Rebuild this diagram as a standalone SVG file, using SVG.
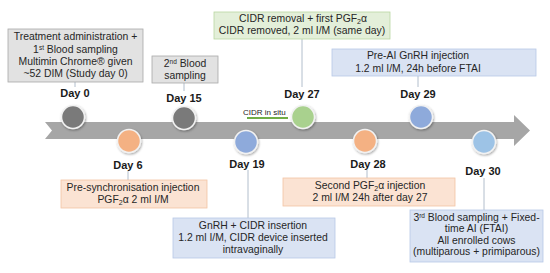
<svg xmlns="http://www.w3.org/2000/svg" width="550" height="273" viewBox="0 0 550 273">
<defs>
<filter id="sh" x="-30%" y="-30%" width="160%" height="160%">
<feDropShadow dx="0.8" dy="1.2" stdDeviation="0.9" flood-color="#000" flood-opacity="0.35"/>
</filter>
<style>
text{font-family:"Liberation Sans",Arial,sans-serif;fill:#262626}
.t{font-size:10.4px;text-anchor:middle}
.d{font-size:11px;font-weight:bold;text-anchor:middle;fill:#1a1a1a}
.gray{fill:#e2e2e2;stroke:#a9a9a9;stroke-width:0.8}
.green{fill:#e3efd9;stroke:#b9d7a2;stroke-width:0.8}
.blue{fill:#dae3f3;stroke:#b7c9e6;stroke-width:0.8}
.orange{fill:#fbe3d3;stroke:#f3c4a4;stroke-width:0.8}
.c{stroke:#f2f2f2;stroke-width:1.5;filter:url(#sh)}
.ln{stroke:#a9b7c6;stroke-width:0.9;fill:none}
</style>
</defs>
<g id="timeline">
<polygon points="45,122 514,122 514,115 530,130.5 514,146 514,139 45,139 52,130.5" fill="#a6a6a6"/>
<line x1="247" y1="118" x2="288" y2="118" stroke="#70ad47" stroke-width="2"/>
<text x="243" y="115" style="font-size:8px">CIDR in situ</text>
</g>
<g id="connectors">
<line class="ln" x1="75" y1="82" x2="75" y2="87"/>
<line class="ln" x1="184" y1="83" x2="184" y2="91"/>
<line class="ln" x1="302" y1="39" x2="302" y2="87"/>
<line class="ln" x1="418" y1="76" x2="418" y2="87"/>
<line class="ln" x1="128" y1="171" x2="128" y2="180"/>
<line class="ln" x1="248" y1="170" x2="248" y2="218"/>
<line class="ln" x1="367" y1="170" x2="367" y2="178"/>
<line class="ln" x1="484" y1="178" x2="484" y2="210"/>
</g>
<g id="day0">
<rect class="gray" x="8" y="29" width="135" height="53"/>
<text class="t" x="75.5" y="40">Treatment administration +</text>
<text class="t" x="75.5" y="53">1<tspan font-size="6.5" dy="-3.5">st</tspan><tspan dy="3.5"> Blood sampling</tspan></text>
<text class="t" x="75.5" y="65">Multimin Chrome® given</text>
<text class="t" x="75.5" y="77">~52 DIM (Study day 0)</text>
<text class="d" x="75" y="97">Day 0</text>
<circle class="c" cx="73" cy="117" r="11.5" fill="#7a7a7a"/>
</g>
<g id="day15">
<rect class="gray" x="152" y="56" width="66" height="27"/>
<text class="t" x="185" y="67">2<tspan font-size="6.5" dy="-3.5">nd</tspan><tspan dy="3.5"> Blood</tspan></text>
<text class="t" x="185" y="79">sampling</text>
<text class="d" x="184" y="102">Day 15</text>
<circle class="c" cx="184" cy="118" r="11.5" fill="#7a7a7a"/>
</g>
<g id="day27">
<rect class="green" x="214" y="12" width="176" height="27"/>
<text class="t" x="303" y="22">CIDR removal + first PGF<tspan font-size="7" dy="2">2</tspan><tspan dy="-2">α</tspan></text>
<text class="t" x="302" y="34">CIDR removed, 2 ml I/M (same day)</text>
<text class="d" x="302" y="98">Day 27</text>
<circle class="c" cx="303" cy="117" r="11.5" fill="#a9d18e"/>
</g>
<g id="day29">
<rect class="blue" x="332" y="49" width="204" height="27"/>
<text class="t" x="418" y="59">Pre-AI GnRH injection</text>
<text class="t" x="418" y="72">1.2 ml I/M, 24h before FTAI</text>
<text class="d" x="418" y="98">Day 29</text>
<circle class="c" cx="421" cy="117" r="11.5" fill="#8eaadb"/>
</g>
<g id="day6">
<circle class="c" cx="129" cy="141" r="11.5" fill="#f4b183"/>
<text class="d" x="128" y="169">Day 6</text>
<rect class="orange" x="61" y="180" width="146" height="28"/>
<text class="t" x="133" y="191">Pre-synchronisation injection</text>
<text class="t" x="133" y="203">PGF<tspan font-size="7" dy="2">2</tspan><tspan dy="-2">α 2 ml I/M</tspan></text>
</g>
<g id="day19">
<circle class="c" cx="246" cy="142" r="11.5" fill="#8eaadb"/>
<text class="d" x="247" y="168">Day 19</text>
<rect class="blue" x="173" y="218" width="162" height="40"/>
<text class="t" x="253" y="229">GnRH + CIDR insertion</text>
<text class="t" x="253" y="241">1.2 ml I/M, CIDR device inserted</text>
<text class="t" x="253" y="253">intravaginally</text>
</g>
<g id="day28">
<circle class="c" cx="365" cy="141" r="11.5" fill="#f4b183"/>
<text class="d" x="368" y="168">Day 28</text>
<rect class="orange" x="283" y="178" width="172" height="28"/>
<text class="t" x="370" y="189">Second PGF<tspan font-size="7" dy="2">2</tspan><tspan dy="-2">α injection</tspan></text>
<text class="t" x="370" y="201">2 ml I/M 24h after day 27</text>
</g>
<g id="day30">
<circle class="c" cx="484" cy="142" r="11.5" fill="#9dc3e6"/>
<text class="d" x="483" y="175">Day 30</text>
<rect class="blue" x="410" y="210" width="133" height="52"/>
<text class="t" x="476.5" y="221">3<tspan font-size="6.5" dy="-3.5">rd</tspan><tspan dy="3.5"> Blood sampling + Fixed-</tspan></text>
<text class="t" x="476.5" y="232">time AI (FTAI)</text>
<text class="t" x="476.5" y="244">All enrolled cows</text>
<text class="t" x="476.5" y="255">(multiparous + primiparous)</text>
</g>
</svg>
